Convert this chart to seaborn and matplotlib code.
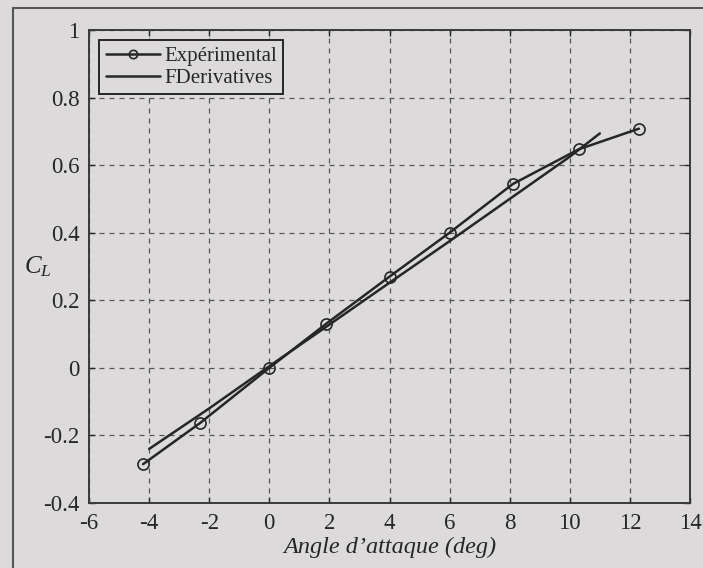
import numpy as np
import pandas as pd
import seaborn as sns
import matplotlib.pyplot as plt
from matplotlib.lines import Line2D

# values
exp_alpha = [-4.2, -2.3, 0.0, 1.9, 4.0, 6.0, 8.1, 10.3, 12.3]
exp_cl = [-0.285, -0.163, 0.0, 0.131, 0.27, 0.40, 0.544, 0.647, 0.708]
fd_alpha = [-4.0, -2.0, 0.0, 2.0, 4.0, 6.0, 8.0, 10.0, 11.0]
fd_cl = [-0.24, -0.12, 0.005, 0.128, 0.252, 0.375, 0.50, 0.625, 0.694]
xticks = [-6, -4, -2, 0, 2, 4, 6, 8, 10, 12, 14]
yticks = [-0.4, -0.2, 0, 0.2, 0.4, 0.6, 0.8, 1]
ytick_labels = ["-0.4", "-0.2", "0", "0.2", "0.4", "0.6", "0.8", "1"]

sns.set_style("ticks")
bg = "#dcdadb"
ink = "#262626"
plt.rcParams["font.family"] = ["Liberation Serif", "DejaVu Serif"]
plt.rcParams["mathtext.fontset"] = "custom"
plt.rcParams["mathtext.rm"] = "Liberation Serif"
plt.rcParams["mathtext.it"] = "Liberation Serif:italic"

exp = pd.DataFrame({"alpha": exp_alpha, "cl": exp_cl})
fd = pd.DataFrame({"alpha": fd_alpha, "cl": fd_cl})

fig = plt.figure(figsize=(7.03, 5.68), dpi=100, facecolor=bg)
ax = fig.add_axes([89 / 703, 65 / 568, 601 / 703, 473 / 568])
ax.set_facecolor(bg)

sns.lineplot(data=exp, x="alpha", y="cl", ax=ax, color=ink, lw=1.8,
             marker="o", markersize=8, markerfacecolor="none",
             markeredgecolor=ink, markeredgewidth=1.2, label="Expérimental")
sns.lineplot(data=fd, x="alpha", y="cl", ax=ax, color=ink, lw=1.8,
             label="FDerivatives")

ax.set_xlim(-6, 14)
ax.set_ylim(-0.4, 1)
ax.set_xticks(xticks)
ax.set_xticklabels([str(t) for t in xticks])
ax.set_yticks(yticks)
ax.set_yticklabels(ytick_labels)
ax.tick_params(direction="in", top=True, right=True, labelsize=16.5,
               colors=ink, length=4, width=1, pad=7)
ax.grid(True, ls=(0, (4, 4)), color="#555555", lw=0.9)
for s in ax.spines.values():
    s.set_visible(True)
    s.set_color("#3a3a3a")
    s.set_linewidth(1.4)

ax.set_xlabel("Angle d’attaque (deg)", fontsize=17.5, style="italic",
              color=ink, labelpad=2)
ax.set_ylabel("$C_L$", fontsize=18, rotation=0, color=ink, va="center")
ax.yaxis.set_label_coords(-0.085, 0.5)

leg = ax.legend(loc="upper left", fontsize=15, frameon=True, fancybox=False,
                edgecolor=ink, facecolor=bg, framealpha=1, handlelength=2.6,
                handletextpad=0.2, borderpad=0.3, labelspacing=0.1,
                borderaxespad=0.5)
leg.get_frame().set_linewidth(1.4)
leg.legend_handles[0].set_markersize(6)

# scan border around the figure
fig.add_artist(Line2D([13 / 703, 13 / 703], [0, 1 - 8 / 568],
                      transform=fig.transFigure, color="#555555", lw=1.5))
fig.add_artist(Line2D([13 / 703, 1], [1 - 8 / 568, 1 - 8 / 568],
                      transform=fig.transFigure, color="#555555", lw=1.5))

plt.savefig("out.png", dpi=100, facecolor=bg)
